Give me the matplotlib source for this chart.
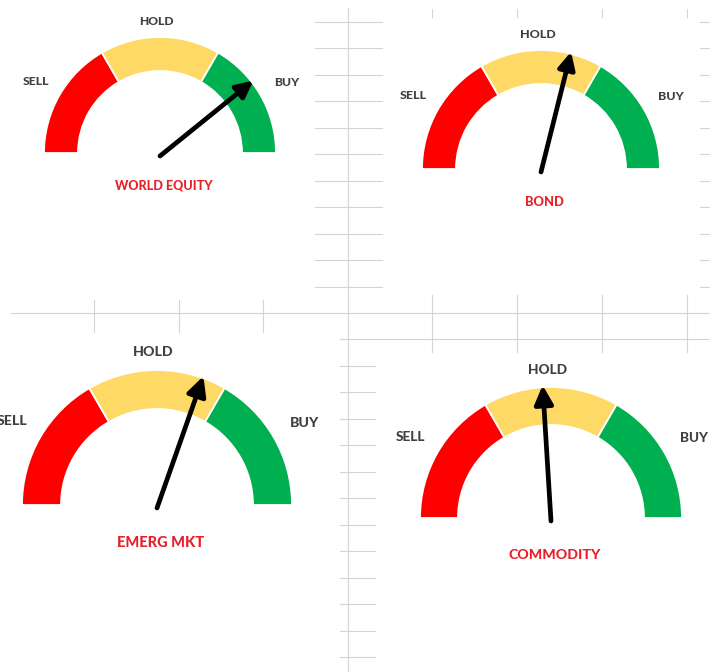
import matplotlib.pyplot as plt
from matplotlib.patches import Wedge
import numpy as np

# gauge data (needle position on a 0-100 scale, 0 = SELL end, 100 = BUY end)
titles = ["WORLD EQUITY", "BOND", "EMERG MKT", "COMMODITY"]
needles = [79, 58, 61, 48]
zones = ["SELL", "HOLD", "BUY"]
zone_bounds = [0, 33.3, 66.7, 100]
zone_colors = ["#FF0000", "#FFD966", "#00B050"]

# layout of each gauge in the screenshot: centre x, baseline y (from top), radius, thickness
centres = [(160, 153), (541, 169), (157, 505), (551, 518)]
radii = [116, 119, 135, 131]
widths = [34, 34, 39, 38]

W, H = 710, 672
fig = plt.figure(figsize=(W / 100, H / 100), dpi=100)
ax = fig.add_axes([0, 0, 1, 1])
ax.set_xlim(0, W)
ax.set_ylim(0, H)
ax.axis('off')

# excel grid lines visible between the chart boxes
grid = '#D4D4D4'
def seg(x0, y0, x1, y1):
    ax.plot([x0, x1], [H - y0, H - y1], color=grid, lw=0.8, zorder=0)

seg(348, 8, 348, H)
seg(11, 313, W, 313)
seg(340, 339, W, 339)
for x in [94, 179, 263]:
    seg(x, 300, x, 332)
for x in [432, 517, 602, 687]:
    seg(x, 9, x, 17)
    seg(x, 295, x, 352)
for k in range(11):
    y = 21.7 + 26.5 * k
    seg(315, y, 382, y)
    seg(700, y, W, y)
for k in range(1, 13):
    y = 339 + 26.5 * k
    seg(340, y, 375, y)

def ang(v):
    return 180 - v * 1.8

fam = ['Lato', 'DejaVu Sans']
for title, val, (cx, by), R, w in zip(titles, needles, centres, radii, widths):
    cy = H - by
    for i in range(3):
        ax.add_patch(Wedge((cx, cy), R, ang(zone_bounds[i + 1]), ang(zone_bounds[i]),
                           width=w, facecolor=zone_colors[i], edgecolor='white', lw=1.3, zorder=2))
    a = np.radians(ang(val))
    tip = (cx + (R + 2) * np.cos(a), cy + (R + 2) * np.sin(a))
    ax.annotate('', xy=tip, xytext=(cx, cy - 3),
                arrowprops=dict(arrowstyle='-|>,head_length=0.9,head_width=0.45', lw=3.4,
                                color='black', mutation_scale=R * 0.095, shrinkA=0, shrinkB=0,
                                capstyle='round'),
                zorder=4)
    fs = R * 0.075
    ax.text(cx - 1.07 * R, cy + 0.62 * R, zones[0], ha='center', va='center', fontsize=fs,
            fontweight='black', color='#404040', family=fam)
    ax.text(cx - 0.03 * R, cy + 1.13 * R, zones[1], ha='center', va='center', fontsize=fs,
            fontweight='black', color='#404040', family=fam)
    ax.text(cx + 1.09 * R, cy + 0.61 * R, zones[2], ha='center', va='center', fontsize=fs,
            fontweight='black', color='#404040', family=fam)
    ax.text(cx + 0.03 * R, cy - 0.28 * R, title, ha='center', va='center', fontsize=R * 0.078,
            fontweight='black', color='#E8202A', family=fam)

fig.savefig('out.png', dpi=100)
